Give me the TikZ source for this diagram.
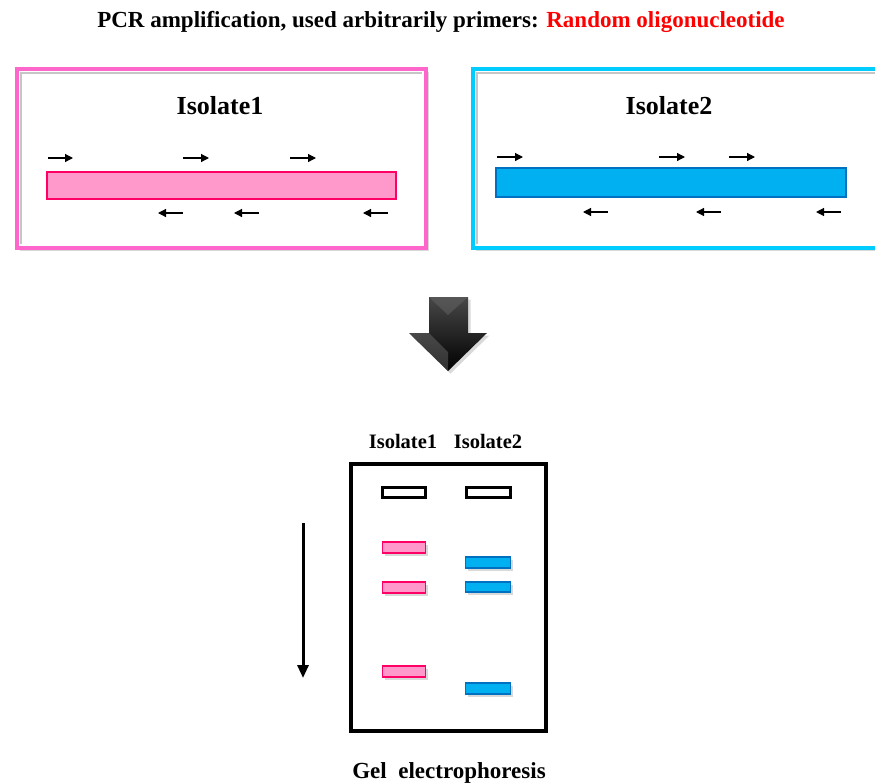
\documentclass[tikz,border=0pt]{standalone}
\usepackage{fontspec}
\setmainfont{Liberation Serif}
\usetikzlibrary{arrows.meta,shadows,positioning}
\definecolor{boxpink}{HTML}{FF66CC}
\definecolor{barpink}{HTML}{FF99CC}
\definecolor{edgepink}{HTML}{FF0066}
\definecolor{boxcyan}{HTML}{00CCFF}
\definecolor{barblue}{HTML}{00B0F0}
\definecolor{edgeblue}{HTML}{0070C0}

\begin{document}
\begin{tikzpicture}[x=1pt,y=-1pt,
  softshadow/.style={drop shadow={opacity=0.3,shadow xshift=2.5pt,shadow yshift=-2.5pt}},
  panel/.style={line width=4pt,fill=white,softshadow},
  bevel/.style={gray!45,line width=2pt},
  primer/.style={-{Triangle[length=8pt,width=8pt]},line width=1.2pt},
  band/.style={line width=1.2pt,softshadow},
  well/.style={line width=3pt,fill=white},
  lbl/.style={font=\bfseries\fontsize{#1}{#1}\selectfont,inner sep=0pt,anchor=base}]

\useasboundingbox (0,0) rectangle (875,782);

% Title
\node[lbl=23] (title) at (441,27) {PCR amplification, used arbitrarily primers: \textcolor{red}{Random oligonucleotide}};

% Isolate1 panel
\draw[panel,draw=boxpink] (17,69) rectangle (426,248);
\draw[bevel] (21,244) -- (21,73) -- (422,73);
\node[lbl=26] (iso1) at (220,114) {Isolate1};
\draw[fill=barpink,draw=edgepink,line width=1.2pt] (47,172) rectangle (396,199);
\draw[primer] (48,158) -- (73,158);
\draw[primer] (183,158) -- (209,158);
\draw[primer] (290,158) -- (316,158);
\draw[primer] (183,213) -- (158,213);
\draw[primer] (259,213) -- (234,213);
\draw[primer] (388,213) -- (363,213);

% Isolate2 panel
\draw[panel,draw=boxcyan] (473,69) rectangle (885,248);
\draw[bevel] (477,244) -- (477,73) -- (880,73);
\node[lbl=26] (iso2) at (669,114) {Isolate2};
\draw[fill=barblue,draw=edgeblue,line width=1.2pt] (496,168) rectangle (846,197);
\draw[primer] (497,157) -- (523,157);
\draw[primer] (659,157) -- (685,157);
\draw[primer] (729,157) -- (755,157);
\draw[primer] (608,212) -- (583,212);
\draw[primer] (721,212) -- (696,212);
\draw[primer] (841,212) -- (816,212);

% Big arrow down
\shade[top color=black!72,bottom color=black,softshadow]
  (429,297) -- (468,297) -- (468,333) -- (487,333) -- (448,371) -- (409,333) -- (429,333) -- cycle;
\fill[black!60,opacity=0.5] (429,297) -- (468,297) -- (448,315) -- cycle;
\fill[black!45,opacity=0.35] (409,333) -- (429,333) -- (448,352) -- (448,371) -- cycle;

% Gel
\node[lbl=20.5] (lane1) at (403,448) {Isolate1};
\node[lbl=20.5] (lane2) at (488,448) {Isolate2};
\draw[line width=4pt] (351,464) rectangle (546,731);
\draw[well] (382.5,487.5) rectangle (425.5,497.5);
\draw[well] (466.5,487.5) rectangle (510.5,497.5);

% Bands
\draw[band,fill=barpink,draw=edgepink] (382.6,542) rectangle (425.4,553);
\draw[band,fill=barpink,draw=edgepink] (382.6,582) rectangle (425.4,593);
\draw[band,fill=barpink,draw=edgepink] (382.6,666) rectangle (425.4,677);
\draw[band,fill=barblue,draw=edgeblue] (465.6,557) rectangle (510.4,568);
\draw[band,fill=barblue,draw=edgeblue] (465.6,582) rectangle (510.4,592);
\draw[band,fill=barblue,draw=edgeblue] (465.6,683) rectangle (510.4,694);

% Running direction
\coordinate (runtop) at (303,523);
\coordinate (runend) at (303,678);
\draw[line width=3pt,-{Triangle[length=13pt,width=11pt]}] (runtop) -- (runend);

\node[lbl=23] (caption) at (449,778) {Gel~ electrophoresis};

\end{tikzpicture}
\end{document}
